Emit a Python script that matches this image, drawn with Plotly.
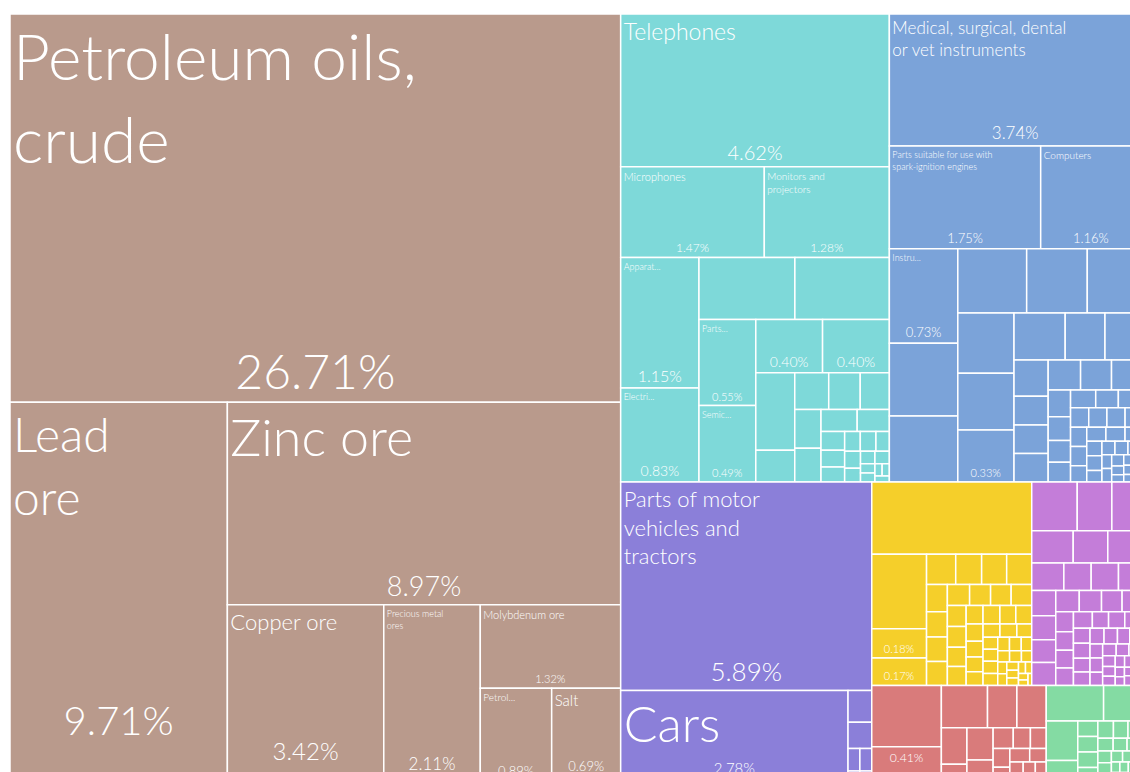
import plotly.graph_objects as go

# Fuente y tamaño de la figura (la figura sobresale un poco de la ventana, como en la captura)
FUENTE = "Lato"
ANCHO = 1141
ALTO = 799

# Sectores (nivel superior del treemap)
SECTORES = ["Mineral Products", "Electrical Machinery", "Machines and Instruments",
            "Transportation", "Metals", "Chemical Products", "Plastics and Rubbers",
            "Vegetable Products", "Foodstuffs"]
COLORES = ["#b99a8c", "#7ed9d9", "#7ba3d9", "#8b7fd9", "#f5cf2a",
           "#c47dd9", "#d97b7b", "#84dba3", "#d9b27f"]

# Productos de cada sector (valores = % del total)
MINERAL_NOMBRES = ["Petroleum oils, crude", "Lead ore", "Zinc ore", "Copper ore",
                   "Precious metal ores", "Molybdenum ore", "Petroleum coke", "Salt"]
MINERAL_VALORES = [26.71, 9.71, 8.97, 3.42, 2.11, 1.32, 0.89, 0.69, 0.07, 0.05, 0.03, 0.02]

ELECTRICA_NOMBRES = ["Telephones", "Microphones", "Monitors and projectors",
                     "Apparatus for radio transmission", "Electric transformers",
                     "Insulated wire", "Electrical switches", "Parts of electric motors",
                     "Semiconductor devices"]
ELECTRICA_VALORES = [4.62, 1.47, 1.28, 1.15, 0.83, 0.67, 0.66, 0.55, 0.49, 0.40, 0.40,
                     0.34, 0.14, 0.14, 0.13, 0.12, 0.115, 0.10, 0.09, 0.08, 0.05, 0.045,
                     0.04, 0.035, 0.035, 0.03, 0.03, 0.025, 0.02, 0.02, 0.015, 0.015,
                     0.01, 0.01, 0.01]

MAQUINAS_NOMBRES = ["Medical, surgical, dental or vet instruments",
                    "Parts suitable for use with spark-ignition engines", "Computers",
                    "Instruments for measuring flow"]
MAQUINAS_VALORES = [3.74, 1.75, 1.16, 0.73, 0.56, 0.51, 0.50, 0.44, 0.39, 0.38, 0.36,
                    0.33, 0.27, 0.21, 0.19, 0.14, 0.11, 0.11, 0.11, 0.11, 0.105, 0.10,
                    0.067, 0.06, 0.055, 0.05, 0.05, 0.045, 0.045, 0.04, 0.04, 0.04,
                    0.035, 0.035, 0.035, 0.03, 0.03, 0.03, 0.025, 0.025, 0.025, 0.02,
                    0.02, 0.02, 0.02, 0.015, 0.015, 0.015, 0.012, 0.01, 0.01, 0.01,
                    0.01, 0.008, 0.008, 0.007]

TRANSPORTE_NOMBRES = ["Parts of motor vehicles and tractors", "Cars"]
TRANSPORTE_VALORES = [5.89, 2.78, 0.085, 0.07, 0.03, 0.03, 0.02, 0.02, 0.015, 0.01, 0.01]

METALES_VALORES = [1.30, 0.46, 0.18, 0.17, 0.099, 0.088, 0.085, 0.085, 0.064, 0.059,
                   0.058, 0.056, 0.053, 0.05, 0.049, 0.049, 0.044, 0.044, 0.041, 0.04,
                   0.035, 0.035, 0.033, 0.033, 0.033, 0.03, 0.028, 0.026, 0.025, 0.025,
                   0.022, 0.02, 0.02, 0.02, 0.02, 0.018, 0.018, 0.016, 0.015, 0.015,
                   0.013, 0.012, 0.012, 0.011, 0.01, 0.01, 0.009, 0.008, 0.007, 0.006,
                   0.005]

QUIMICOS_VALORES = [0.25, 0.19, 0.16, 0.15, 0.125, 0.12, 0.10, 0.085, 0.085, 0.07,
                    0.068, 0.065, 0.062, 0.062, 0.056, 0.053, 0.049, 0.045, 0.04,
                    0.037, 0.035, 0.035, 0.035, 0.03, 0.03, 0.03, 0.028, 0.028, 0.026,
                    0.025, 0.025, 0.024, 0.022, 0.02, 0.02, 0.02, 0.019, 0.018, 0.017,
                    0.016, 0.015, 0.014, 0.013, 0.012, 0.011, 0.01, 0.01, 0.009, 0.008,
                    0.008, 0.007, 0.006, 0.005]

PLASTICOS_VALORES = [0.48, 0.41, 0.22, 0.14, 0.14, 0.105, 0.10, 0.095, 0.065, 0.05,
                     0.047, 0.04, 0.037, 0.035, 0.03, 0.03, 0.03, 0.025, 0.022, 0.02,
                     0.018, 0.016, 0.014, 0.012, 0.01, 0.01, 0.009, 0.008, 0.007, 0.006]

VEGETALES_VALORES = [0.23, 0.15, 0.14, 0.08, 0.035, 0.035, 0.035, 0.035, 0.03, 0.028,
                     0.025, 0.022, 0.02, 0.02, 0.018, 0.016, 0.015, 0.014, 0.012,
                     0.011, 0.01, 0.01, 0.01, 0.01, 0.009, 0.008, 0.007, 0.006]

ALIMENTOS_VALORES = [0.06, 0.035, 0.02, 0.015, 0.012, 0.01, 0.008, 0.006, 0.004]

# Texto visible en cada recuadro (como en la imagen; el resto queda sin etiqueta)
ETIQUETAS = {
    "Petroleum oils, crude": "Petroleum oils,<br>crude",
    "Lead ore": "Lead<br>ore",
    "Zinc ore": "Zinc ore",
    "Copper ore": "Copper ore",
    "Precious metal ores": "Precious metal<br>ores",
    "Molybdenum ore": "Molybdenum ore",
    "Petroleum coke": "Petrol...",
    "Salt": "Salt",
    "Telephones": "Telephones",
    "Microphones": "Microphones",
    "Monitors and projectors": "Monitors and<br>projectors",
    "Apparatus for radio transmission": "Apparat...",
    "Electric transformers": "Electri...",
    "Parts of electric motors": "Parts...",
    "Semiconductor devices": "Semic...",
    "Medical, surgical, dental or vet instruments": "Medical, surgical, dental<br>or vet instruments",
    "Parts suitable for use with spark-ignition engines": "Parts suitable for use with<br>spark-ignition engines",
    "Computers": "Computers",
    "Instruments for measuring flow": "Instru...",
    "Parts of motor vehicles and tractors": "Parts of motor<br>vehicles and<br>tractors",
    "Cars": "Cars",
}
# Recuadros sin nombre visible que sí muestran su porcentaje
PCT_SIN_ETIQUETA = ["Electrical Machinery 10", "Electrical Machinery 11",
                    "Machines and Instruments 12", "Metals 3", "Metals 4",
                    "Plastics and Rubbers 2"]
# Recuadros del borde inferior: líneas en blanco bajo el porcentaje para subirlo
SUBIR_PCT = {"Lead ore": 1, "Copper ore": 1, "Precious metal ores": 1,
             "Petroleum coke": 1, "Cars": 1, "Plastics and Rubbers 2": 2}

# Tamaños de letra (estilo)
FS_ETIQUETA = {"Petroleum oils, crude": 64, "Lead ore": 48, "Zinc ore": 52,
               "Copper ore": 22, "Precious metal ores": 9, "Molybdenum ore": 11,
               "Petroleum coke": 10, "Salt": 15, "Telephones": 23, "Microphones": 11,
               "Monitors and projectors": 10, "Medical, surgical, dental or vet instruments": 17,
               "Parts suitable for use with spark-ignition engines": 9, "Computers": 10,
               "Parts of motor vehicles and tractors": 22, "Cars": 50}
FS_PCT = {"Petroleum oils, crude": 48, "Lead ore": 40, "Zinc ore": 27, "Copper ore": 24,
          "Precious metal ores": 17, "Molybdenum ore": 11, "Petroleum coke": 13, "Salt": 13,
          "Telephones": 20, "Microphones": 12, "Monitors and projectors": 12,
          "Apparatus for radio transmission": 16, "Electric transformers": 14,
          "Medical, surgical, dental or vet instruments": 17,
          "Parts suitable for use with spark-ignition engines": 13, "Computers": 13,
          "Instruments for measuring flow": 13, "Parts of motor vehicles and tractors": 26,
          "Cars": 15, "Plastics and Rubbers 2": 15, "Electrical Machinery 10": 14,
          "Electrical Machinery 11": 14}

PRODUCTOS = [
    (MINERAL_NOMBRES, MINERAL_VALORES),
    (ELECTRICA_NOMBRES, ELECTRICA_VALORES),
    (MAQUINAS_NOMBRES, MAQUINAS_VALORES),
    (TRANSPORTE_NOMBRES, TRANSPORTE_VALORES),
    ([], METALES_VALORES),
    ([], QUIMICOS_VALORES),
    ([], PLASTICOS_VALORES),
    ([], VEGETALES_VALORES),
    ([], ALIMENTOS_VALORES),
]

ids, labels, parents, values, colores = [], [], [], [], []
txt_etiqueta, fs_etiqueta, tpl_pct, fs_pct = [], [], [], []

for sector, color, (nombres, valores) in zip(SECTORES, COLORES, PRODUCTOS):
    ids.append(sector)
    labels.append(sector)
    parents.append("")
    values.append(0)
    colores.append(color)
    txt_etiqueta.append("")
    fs_etiqueta.append(10)
    tpl_pct.append("")
    fs_pct.append(10)
    for i, v in enumerate(valores):
        nombre = nombres[i] if i < len(nombres) else f"{sector} {i + 1}"
        ids.append(f"{sector}/{i}")
        labels.append(nombre)
        parents.append(sector)
        values.append(v)
        colores.append(color)
        txt_etiqueta.append(ETIQUETAS.get(nombre, ""))
        fs_etiqueta.append(FS_ETIQUETA.get(nombre, 9))
        mostrar = nombre in ETIQUETAS or nombre in PCT_SIN_ETIQUETA
        plantilla = "%{value:.2f}%" + "<br> " * SUBIR_PCT.get(nombre, 0)
        tpl_pct.append(plantilla if mostrar else "")
        fs_pct.append(FS_PCT.get(nombre, 11))

comun = dict(
    ids=ids, labels=labels, parents=parents, values=values,
    branchvalues="remainder", sort=True,
    tiling=dict(packing="squarify", squarifyratio=1, pad=0),
    pathbar=dict(visible=False),
    domain=dict(x=[0, 1], y=[0, 1]),
)

fig = go.Figure()

# Recuadros de color con el nombre arriba a la izquierda
fig.add_trace(go.Treemap(
    **comun,
    text=txt_etiqueta,
    texttemplate="%{text}",
    textposition="top left",
    textfont=dict(family=FUENTE, color="white", size=fs_etiqueta, weight=300),
    marker=dict(colors=colores, line=dict(color="white", width=1.5),
                pad=dict(t=0, l=0, r=0, b=0), depthfade=False),
    hovertemplate="%{label}<br>%{value:.2f}%<extra></extra>",
))

# Porcentajes centrados abajo (capa transparente con la misma disposición)
fig.add_trace(go.Treemap(
    **comun,
    texttemplate=tpl_pct,
    textposition="bottom center",
    textfont=dict(family=FUENTE, color="white", size=fs_pct, weight=300),
    marker=dict(colors=["rgba(0,0,0,0)"] * len(ids), line=dict(width=0),
                pad=dict(t=0, l=0, r=0, b=0), depthfade=False),
    hoverinfo="skip",
))

fig.update_layout(
    width=ANCHO,
    height=ALTO,
    autosize=False,
    margin=dict(l=10, r=0, t=14, b=0),
    paper_bgcolor="white",
    showlegend=False,
)

fig.write_html(
    "out.html",
    config={"displayModeBar": False},
    post_script="document.body.style.margin='0';"
                "document.documentElement.style.overflow='hidden';",
)
